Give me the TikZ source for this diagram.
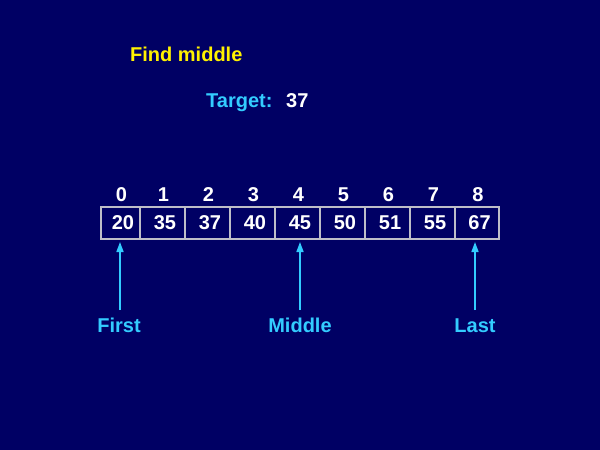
\documentclass[tikz,border=0pt]{standalone}
\usepackage{fontspec}
\setmainfont{Liberation Sans}
\usetikzlibrary{arrows.meta}
\definecolor{bg}{RGB}{0,0,100}
\definecolor{cyanish}{RGB}{51,204,255}
\definecolor{boxgray}{RGB}{190,190,200}
\begin{document}
\begin{tikzpicture}[x=1pt,y=-1pt,
  txt/.style={font=\fontsize{20}{24}\bfseries\selectfont, inner sep=0pt},
  cell/.style={draw=boxgray, line width=1.6pt, minimum height=32pt, inner sep=0pt, text=white, txt},
  idx/.style={txt, text=white, anchor=base},
  lbl/.style={txt, text=cyanish, anchor=base},
  ptr/.style={cyanish, line width=1.6pt, -{Triangle[width=7pt,length=10pt]}}]
\useasboundingbox[fill=bg] (0,0) rectangle (600,450);
\node[txt, text=yellow, anchor=base west] (title) at (130,61) {Find middle};
\node[txt, text=cyanish, anchor=base west] (tgt) at (206,107) {Target:};
\node[txt, text=white, anchor=base west] (tv) at (286,107) {37};
\foreach \i/\a/\b/\v in {0/101/140/20,1/140/185/35,2/185/230/37,3/230/275/40,4/275/320/45,5/320/365/50,6/365/410/51,7/410/455/55,8/455/499/67}{
  \node[cell, minimum width={(\b-\a)*1pt}] (c\i) at ({(\a+\b)/2},223) {\hspace*{5pt}\v};
  \node[idx] (i\i) at ({(\a+\b)/2+1},201) {\i};
}
\node[lbl] (first) at (119,332) {First};
\node[lbl] (middle) at (300,332) {Middle};
\node[lbl] (last) at (475,332) {Last};
\coordinate (fa) at (120,310); \coordinate (fb) at (120,242);
\coordinate (ma) at (300,310); \coordinate (mb) at (300,242);
\coordinate (la) at (475,310); \coordinate (lb) at (475,242);
\draw[ptr] (fa) -- (fb);
\draw[ptr] (ma) -- (mb);
\draw[ptr] (la) -- (lb);
\end{tikzpicture}
\end{document}
